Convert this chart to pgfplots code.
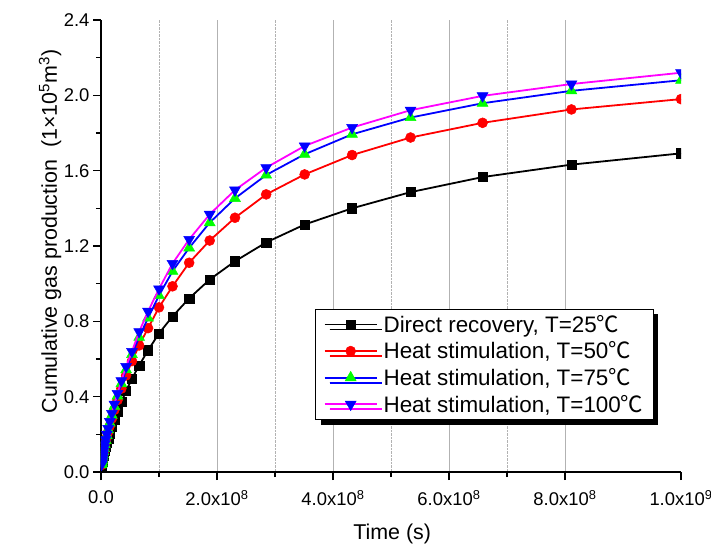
\documentclass[border=0pt]{standalone}
\usepackage{fontspec}
\setmainfont{Liberation Sans}
\newfontfamily\cjk{Noto Sans CJK SC}
\usepackage{pgfplots}
\pgfplotsset{compat=1.18}
\usepackage{pgfplotstable}
\usetikzlibrary{shadows}
\newcommand{\degC}{{\cjk ℃}}
\definecolor{mygreen}{RGB}{0,255,0}
\definecolor{myblue}{RGB}{0,0,255}
\definecolor{mymag}{RGB}{255,0,255}
\definecolor{myred}{RGB}{255,0,0}

\pgfplotstableread{
x b r g m
10.0 1.692 1.980 2.080 2.120
8.111 1.632 1.925 2.024 2.060
6.579 1.566 1.854 1.958 1.997
5.337 1.486 1.776 1.882 1.921
4.329 1.400 1.683 1.793 1.829
3.511 1.314 1.580 1.687 1.731
2.848 1.219 1.474 1.577 1.616
2.310 1.119 1.350 1.453 1.497
1.874 1.022 1.229 1.324 1.368
1.520 0.922 1.111 1.190 1.235
1.233 0.826 0.986 1.066 1.107
1.000 0.736 0.874 0.937 0.972
0.8111 0.646 0.764 0.818 0.853
0.6579 0.566 0.672 0.715 0.745
0.5337 0.495 0.589 0.624 0.640
0.4329 0.431 0.513 0.543 0.560
0.3511 0.372 0.443 0.469 0.484
0.2848 0.321 0.382 0.404 0.417
0.2310 0.277 0.330 0.349 0.360
0.1874 0.239 0.284 0.301 0.311
0.1520 0.206 0.245 0.260 0.268
0.1233 0.178 0.212 0.224 0.231
0.1000 0.154 0.183 0.194 0.200
0.0811 0.133 0.158 0.168 0.173
0.0658 0.115 0.137 0.145 0.150
0.0534 0.099 0.118 0.125 0.129
0.0433 0.086 0.102 0.108 0.112
0.0351 0.074 0.088 0.093 0.096
0.0285 0.064 0.076 0.081 0.083
0.0231 0.055 0.065 0.069 0.072
0.0187 0.048 0.057 0.060 0.062
0.0152 0.041 0.049 0.052 0.053
0.0123 0.036 0.043 0.045 0.047
0.0100 0.031 0.037 0.039 0.040
}\data

\begin{document}
\begin{tikzpicture}
\path[use as bounding box] (-101bp,-78bp) rectangle (610bp,472bp);
\begin{axis}[
  at={(0,0)}, anchor=south west,
  scale only axis, width=580bp, height=452bp,
  xmin=0, xmax=10, ymin=0, ymax=2.4,
  axis x line*=bottom, axis y line*=left,
  axis line style={line width=1.5bp},
  tick align=outside,
  major tick length=8bp, minor tick length=5bp,
  tick style={black, line width=1.2bp},
  xtick={0,2,4,6,8},
  xticklabels={0.0, 2.0x10\textsuperscript{8}, 4.0x10\textsuperscript{8}, 6.0x10\textsuperscript{8}, 8.0x10\textsuperscript{8}},
  extra x ticks={10},
  extra x tick labels={1.0x10\textsuperscript{9}},
  extra x tick style={grid=none},
  minor x tick num=1,
  ytick={0,0.4,0.8,1.2,1.6,2.0,2.4},
  minor y tick num=1,
  yticklabel style={/pgf/number format/.cd, fixed, fixed zerofill, precision=1, assume math mode=true},
  xticklabel style={yshift=-7bp},
  xmajorgrids, xminorgrids,
  major grid style={gray!60, line width=0.9bp},
  minor grid style={gray!60, densely dotted, line width=0.9bp},
  every tick label/.append style={font=\fontsize{18.5}{20}\selectfont},
  xlabel={Time (s)},
  ylabel={Cumulative gas production\ \ (1×10\textsuperscript{5}m\textsuperscript{3})},
  xlabel style={font=\fontsize{21.5}{24}\selectfont, at={(axis description cs:0.502,-0.137)}, anchor=center},
  ylabel style={font=\fontsize{21.5}{24}\selectfont, at={(axis description cs:-0.0879,0.532)}, anchor=center},
  clip marker paths=true,
  legend cell align=left,
  legend style={at={(0.953,0.361)}, anchor=north east, draw=black, line width=0.8bp, fill=white,
    drop shadow={shadow xshift=5bp, shadow yshift=-5bp, fill=black, opacity=1},
    font=\fontsize{22.5}{24}\selectfont, row sep=4bp, inner xsep=8bp, inner ysep=4bp,
    /tikz/every odd column/.append style={column sep=4bp}},
  legend image code/.code={\draw[mark repeat=2,mark phase=2] plot coordinates {(0bp,0bp) (26bp,0bp) (52bp,0bp)};},
]
\addplot[black, line width=1.8bp, mark=square*, mark size=4.6bp, mark options={fill=black, draw=black, solid, line width=0.5bp}] table[x=x, y=b] {\data};
\addlegendentry{Direct recovery, T=25\degC}
\addplot[myred, line width=1.8bp, mark=*, mark size=5bp, mark options={fill=myred, draw=myred, solid, line width=0.5bp}] table[x=x, y=r] {\data};
\addlegendentry{Heat stimulation, T=50\degC}
\addplot[myblue, line width=1.8bp, mark=triangle*, mark size=6.3bp, mark options={fill=mygreen, draw=mygreen, solid, line width=0.5bp}] table[x=x, y=g] {\data};
\addlegendentry{Heat stimulation, T=75\degC}
\addplot[mymag, line width=1.8bp, mark=triangle*, mark size=6.3bp, mark options={fill=myblue, draw=myblue, solid, rotate=180, line width=0.5bp}] table[x=x, y=m] {\data};
\addlegendentry{Heat stimulation, T=100\degC}
\end{axis}
\end{tikzpicture}
\end{document}
